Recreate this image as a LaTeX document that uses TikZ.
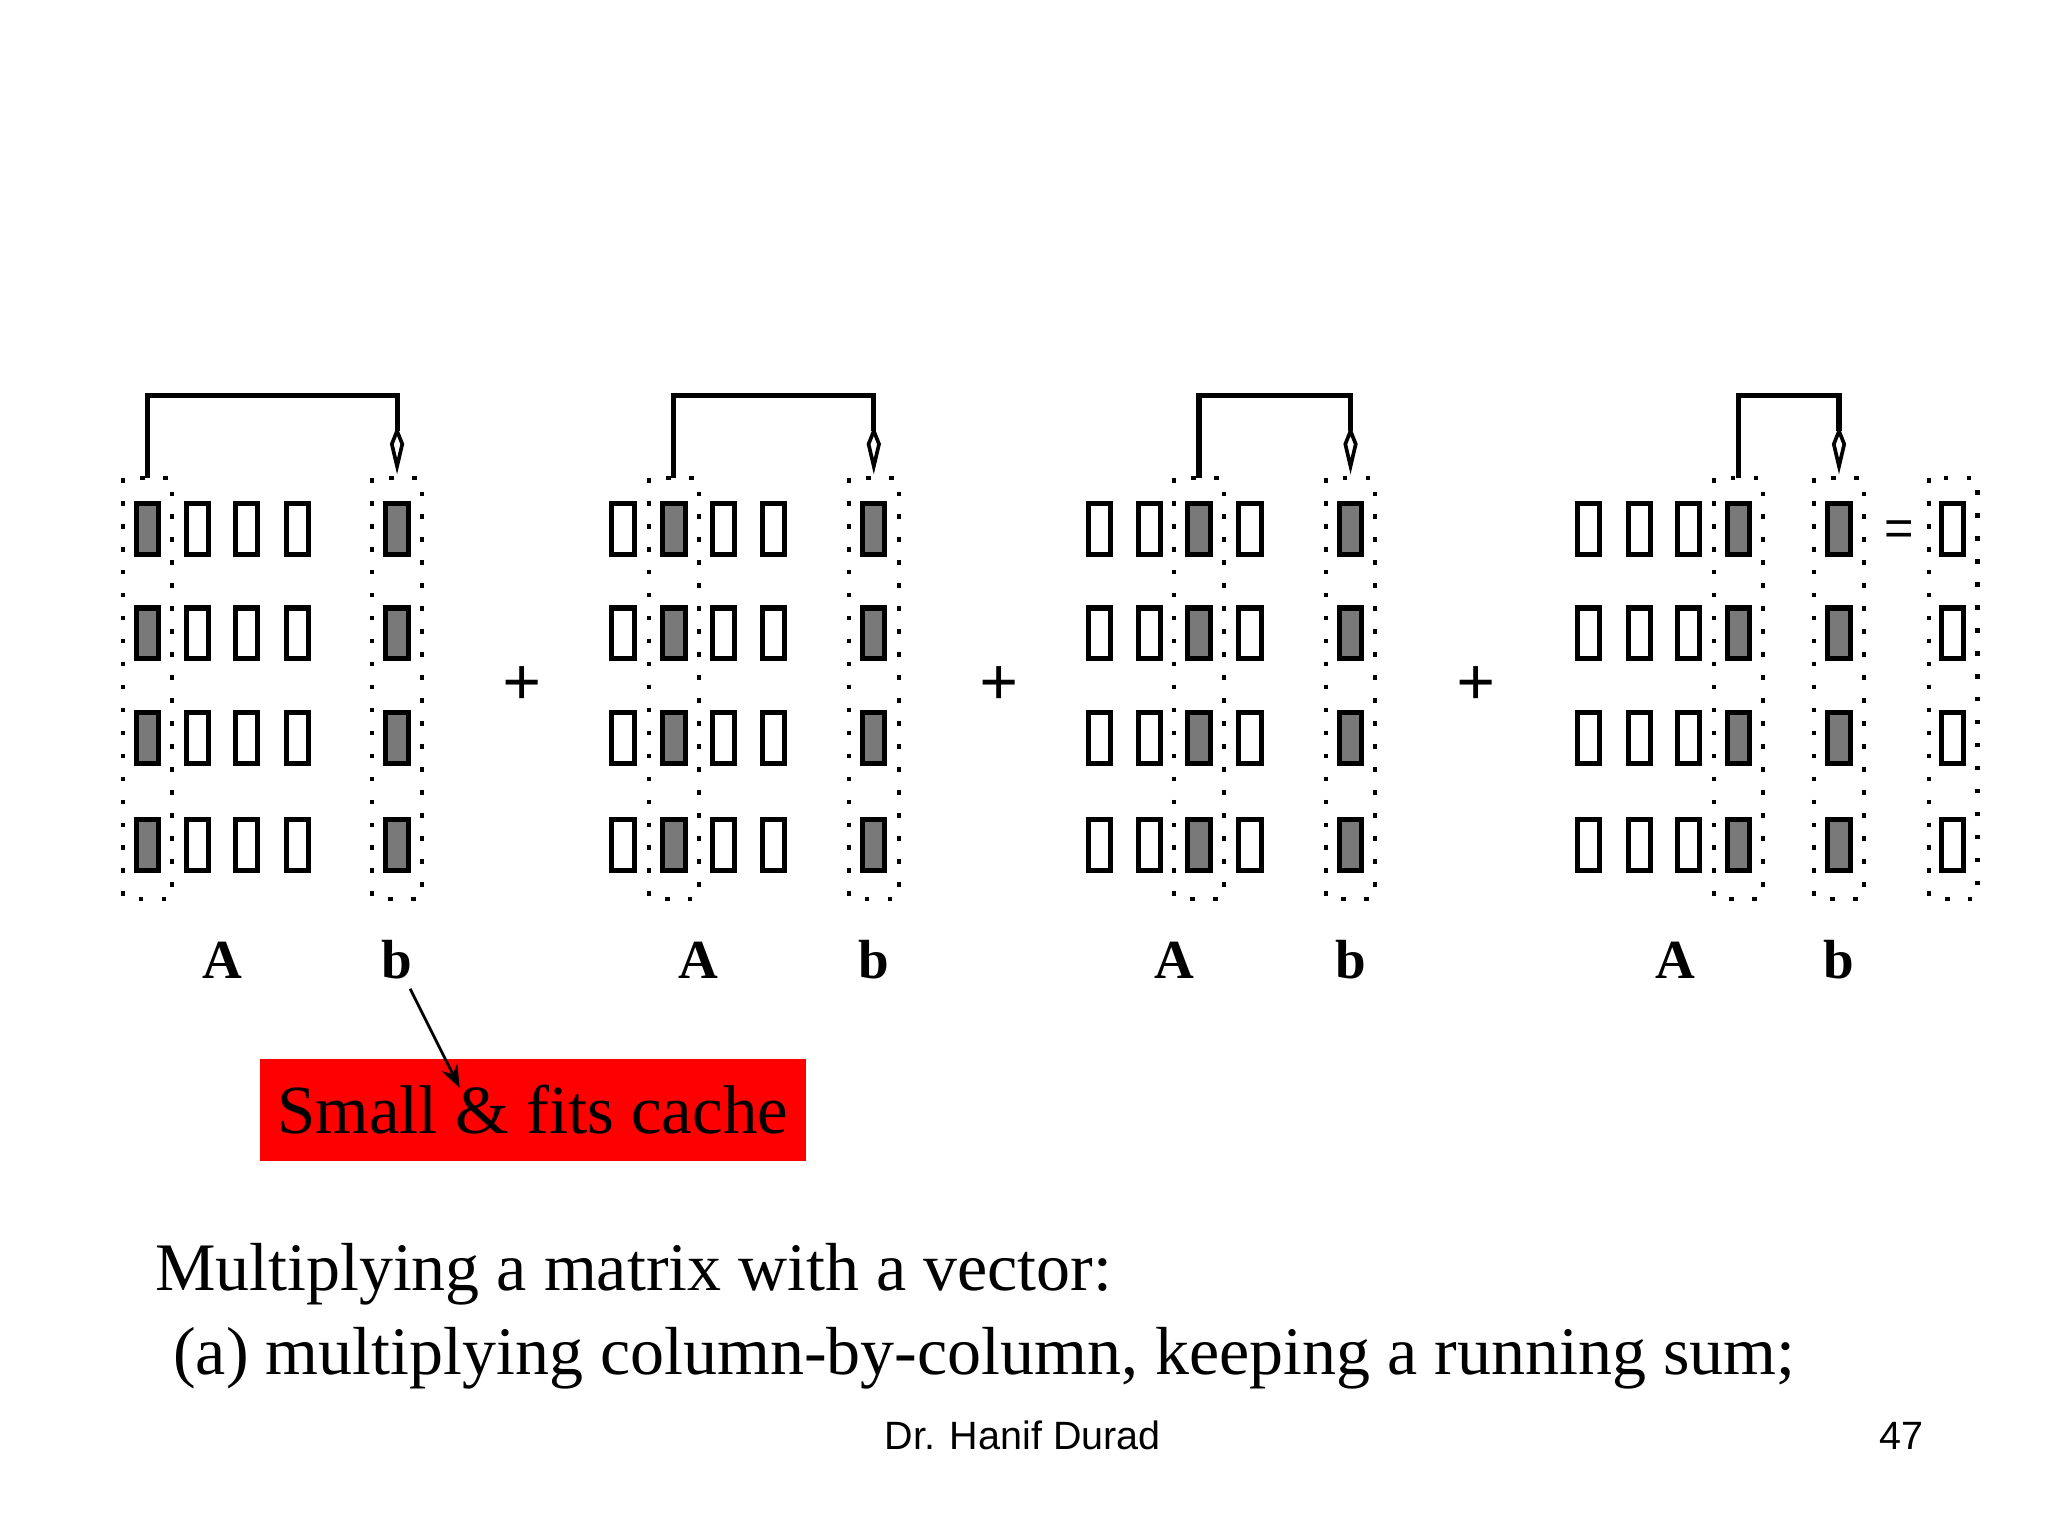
\documentclass[tikz,border=0pt]{standalone}
\usepackage{fontspec}
\usetikzlibrary{arrows.meta}
\setmainfont{Liberation Serif}
\newfontfamily\sansf{Liberation Sans}
\begin{document}
\begin{tikzpicture}[x=0.01cm,y=-0.01cm,
  cell/.style={draw=black,line width=1.1pt,minimum width=0.17cm,minimum height=0.39cm,inner sep=0pt,fill=white},
  shd/.style={cell,fill=gray!95!black},
  dbox/.style={draw=black,line width=0.9pt,dash pattern=on 1pt off 4pt},
  lab/.style={font=\bfseries\fontsize{12}{12}\selectfont},
  op/.style={font=\bfseries\fontsize{15}{15}\selectfont},
  brk/.style={line width=1.1pt}]
\useasboundingbox (0,0) rectangle (1568,1176);
\def\rows{405/1,485/2,565/3,647/4}
\foreach \g/\cols/\sh/\bx/\ax in {
  1/{113,151,189,228}/1/304/170,
  2/{477,516,554,592}/2/669/535,
  3/{842,880,918,957}/3/1034/899,
  4/{1216,1255,1293,1331}/4/1408/1283}{
  \foreach \cx [count=\c] in \cols {
    \foreach \ry/\r in \rows {
      \ifnum\c=\sh
        \node[shd] (a\g-\r-\c) at (\cx,\ry) {};
      \else
        \node[cell] (a\g-\r-\c) at (\cx,\ry) {};
      \fi
    }
    \ifnum\c=\sh
      \draw[dbox] (\cx-19,366) rectangle (\cx+19,688);
      \coordinate (top\g) at (\cx,366);
    \fi
  }
  \foreach \ry/\r in \rows { \node[shd] (b\g-\r) at (\bx,\ry) {}; }
  \draw[dbox] (\bx-19,366) rectangle (\bx+19,688);
  \coordinate (btop\g) at (\bx,357);
  \coordinate (c\g) at (\bx,303);
  \draw[brk] (top\g) |- (c\g) -- (\bx,330);
  \draw[line width=0.8pt,fill=white] (\bx,330) -- (\bx+4,340) -- (btop\g) -- (\bx-4,340) -- cycle;
  \node[lab] (A\g) at (\ax,735) {A};
  \node[lab] (bl\g) at (\bx,735) {b};
}
\node[op] (p1) at (400,525) {+};
\node[op] (p2) at (765,525) {+};
\node[op] (p3) at (1130,525) {+};
\node[font=\sansf\fontsize{11}{11}\selectfont] (eq) at (1454,408) {=};
\foreach \ry/\r in \rows { \node[cell] (res-\r) at (1495,\ry) {}; }
\draw[dbox] (1477,366) rectangle (1514,688);
\node[fill=red,minimum width=4.18cm,minimum height=0.78cm,inner sep=0pt,anchor=north west,
  font=\fontsize{15}{15}\selectfont] (rb) at (198,810) {Small \& fits cache};
\draw[-{Stealth[length=5pt]},line width=0.6pt] (314,757) -- (352,833);
\node[anchor=base west,font=\fontsize{14.8}{14.8}\selectfont,inner sep=0] (l1) at (118,988) {Multiplying a matrix with a vector:};
\node[anchor=base west,font=\fontsize{14.8}{14.8}\selectfont,inner sep=0] (l2) at (132,1052) {(a) multiplying column-by-column, keeping a running sum;};
\node[font=\sansf\fontsize{8.6}{8.6}\selectfont] (ft) at (783,1099) {Dr. Hanif Durad};
\node[font=\sansf\fontsize{8.6}{8.6}\selectfont] (pg) at (1456,1099) {47};
\end{tikzpicture}
\end{document}
